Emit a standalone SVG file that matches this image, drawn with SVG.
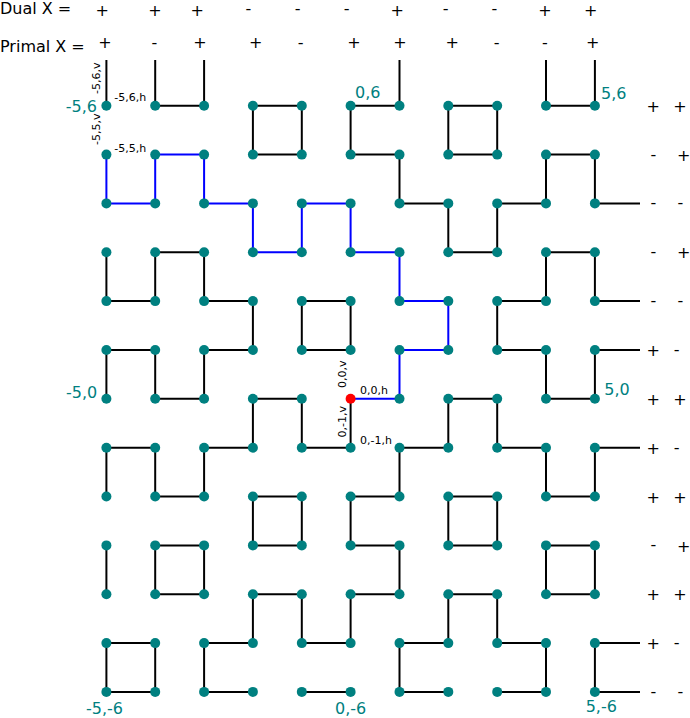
<svg xmlns="http://www.w3.org/2000/svg" width="690" height="718" viewBox="0 0 690 718">
<style>
text{font-family:"DejaVu Sans","Liberation Sans",sans-serif;fill:#000}
.hdr{font-size:16px}
.sg{font-size:16px;text-anchor:middle}
.co{font-size:16px;fill:#008080}
.sm{font-size:11px}
.e line{stroke:#000;stroke-width:2}
.path{fill:none;stroke:#0000ff;stroke-width:2}
.n circle{fill:#008080}
.n circle.start{fill:#ff0000}
</style>
<rect width="690" height="718" fill="#fff"/>
<g id="headers">
<text class="hdr" x="0" y="13.5">Dual X =</text>
<text class="hdr" x="0" y="52">Primal X =</text>
</g>
<g id="dual-signs">
<text class="sg" x="102.3" y="15.5">+</text>
<text class="sg" x="155" y="15.5">+</text>
<text class="sg" x="197.3" y="15.5">+</text>
<text class="sg" x="248.3" y="14.4">-</text>
<text class="sg" x="297.7" y="14.4">-</text>
<text class="sg" x="346.7" y="14.4">-</text>
<text class="sg" x="397.3" y="15.5">+</text>
<text class="sg" x="445.7" y="14.4">-</text>
<text class="sg" x="494.3" y="14.4">-</text>
<text class="sg" x="545" y="15.5">+</text>
<text class="sg" x="590.7" y="15.5">+</text>
</g>
<g id="primal-signs">
<text class="sg" x="105" y="48.2">+</text>
<text class="sg" x="154.3" y="47.7">-</text>
<text class="sg" x="200" y="48.2">+</text>
<text class="sg" x="255.7" y="48.2">+</text>
<text class="sg" x="300.7" y="47.7">-</text>
<text class="sg" x="354" y="48.2">+</text>
<text class="sg" x="400" y="48.2">+</text>
<text class="sg" x="452.3" y="48.2">+</text>
<text class="sg" x="496.7" y="47.7">-</text>
<text class="sg" x="545" y="47.7">-</text>
<text class="sg" x="592.7" y="48.2">+</text>
</g>
<g id="row-signs">
<text class="sg" x="653.3" y="111.8">+</text><text class="sg" x="680" y="111.8">+</text>
<text class="sg" x="653.3" y="159.5">-</text><text class="sg" x="683.7" y="160.7">+</text>
<text class="sg" x="653.3" y="208.3">-</text><text class="sg" x="680.4" y="208.3">-</text>
<text class="sg" x="653.3" y="257.2">-</text><text class="sg" x="683.7" y="258.4">+</text>
<text class="sg" x="653.3" y="306">-</text><text class="sg" x="680.4" y="306">-</text>
<text class="sg" x="653.3" y="356.1">+</text><text class="sg" x="676.7" y="354.9">-</text>
<text class="sg" x="653.3" y="404.9">+</text><text class="sg" x="680" y="404.9">+</text>
<text class="sg" x="653.3" y="453.8">+</text><text class="sg" x="676.7" y="452.6">-</text>
<text class="sg" x="653.3" y="502.6">+</text><text class="sg" x="680" y="502.6">+</text>
<text class="sg" x="653.3" y="550.3">-</text><text class="sg" x="683.7" y="551.5">+</text>
<text class="sg" x="653.3" y="600.3">+</text><text class="sg" x="680" y="600.3">+</text>
<text class="sg" x="653.3" y="649.2">+</text><text class="sg" x="676.7" y="648">-</text>
<text class="sg" x="653.3" y="696.8">-</text><text class="sg" x="680.4" y="696.8">-</text>
</g>
<g id="connectors" class="e">
<line x1="106.4" y1="60" x2="106.4" y2="105.7"/>
<line x1="155.2" y1="60" x2="155.2" y2="105.7"/>
<line x1="204.1" y1="60" x2="204.1" y2="105.7"/>
<line x1="399.5" y1="60" x2="399.5" y2="105.7"/>
<line x1="546" y1="60" x2="546" y2="105.7"/>
<line x1="594.9" y1="60" x2="594.9" y2="105.7"/>
<line x1="155.2" y1="105.7" x2="204.1" y2="105.7"/>
<line x1="252.9" y1="105.7" x2="301.8" y2="105.7"/>
<line x1="350.6" y1="105.7" x2="399.5" y2="105.7"/>
<line x1="448.3" y1="105.7" x2="497.2" y2="105.7"/>
<line x1="546" y1="105.7" x2="594.9" y2="105.7"/>
<line x1="252.9" y1="154.6" x2="301.8" y2="154.6"/>
<line x1="350.6" y1="154.6" x2="399.5" y2="154.6"/>
<line x1="448.3" y1="154.6" x2="497.2" y2="154.6"/>
<line x1="546" y1="154.6" x2="594.9" y2="154.6"/>
<line x1="399.5" y1="203.4" x2="448.3" y2="203.4"/>
<line x1="497.2" y1="203.4" x2="546" y2="203.4"/>
<line x1="594.9" y1="203.4" x2="640" y2="203.4"/>
<line x1="155.2" y1="252.3" x2="204.1" y2="252.3"/>
<line x1="448.3" y1="252.3" x2="497.2" y2="252.3"/>
<line x1="546" y1="252.3" x2="594.9" y2="252.3"/>
<line x1="106.4" y1="301.1" x2="155.2" y2="301.1"/>
<line x1="204.1" y1="301.1" x2="252.9" y2="301.1"/>
<line x1="301.8" y1="301.1" x2="350.6" y2="301.1"/>
<line x1="497.2" y1="301.1" x2="546" y2="301.1"/>
<line x1="594.9" y1="301.1" x2="640" y2="301.1"/>
<line x1="106.4" y1="350" x2="155.2" y2="350"/>
<line x1="204.1" y1="350" x2="252.9" y2="350"/>
<line x1="301.8" y1="350" x2="350.6" y2="350"/>
<line x1="497.2" y1="350" x2="546" y2="350"/>
<line x1="594.9" y1="350" x2="640" y2="350"/>
<line x1="155.2" y1="398.8" x2="204.1" y2="398.8"/>
<line x1="252.9" y1="398.8" x2="301.8" y2="398.8"/>
<line x1="448.3" y1="398.8" x2="497.2" y2="398.8"/>
<line x1="546" y1="398.8" x2="594.9" y2="398.8"/>
<line x1="106.4" y1="447.7" x2="155.2" y2="447.7"/>
<line x1="204.1" y1="447.7" x2="252.9" y2="447.7"/>
<line x1="301.8" y1="447.7" x2="350.6" y2="447.7"/>
<line x1="399.5" y1="447.7" x2="448.3" y2="447.7"/>
<line x1="497.2" y1="447.7" x2="546" y2="447.7"/>
<line x1="594.9" y1="447.7" x2="640" y2="447.7"/>
<line x1="155.2" y1="496.5" x2="204.1" y2="496.5"/>
<line x1="252.9" y1="496.5" x2="301.8" y2="496.5"/>
<line x1="350.6" y1="496.5" x2="399.5" y2="496.5"/>
<line x1="448.3" y1="496.5" x2="497.2" y2="496.5"/>
<line x1="546" y1="496.5" x2="594.9" y2="496.5"/>
<line x1="155.2" y1="545.4" x2="204.1" y2="545.4"/>
<line x1="252.9" y1="545.4" x2="301.8" y2="545.4"/>
<line x1="350.6" y1="545.4" x2="399.5" y2="545.4"/>
<line x1="448.3" y1="545.4" x2="497.2" y2="545.4"/>
<line x1="546" y1="545.4" x2="594.9" y2="545.4"/>
<line x1="155.2" y1="594.2" x2="204.1" y2="594.2"/>
<line x1="252.9" y1="594.2" x2="301.8" y2="594.2"/>
<line x1="350.6" y1="594.2" x2="399.5" y2="594.2"/>
<line x1="448.3" y1="594.2" x2="497.2" y2="594.2"/>
<line x1="546" y1="594.2" x2="594.9" y2="594.2"/>
<line x1="106.4" y1="643.1" x2="155.2" y2="643.1"/>
<line x1="204.1" y1="643.1" x2="252.9" y2="643.1"/>
<line x1="301.8" y1="643.1" x2="350.6" y2="643.1"/>
<line x1="399.5" y1="643.1" x2="448.3" y2="643.1"/>
<line x1="497.2" y1="643.1" x2="546" y2="643.1"/>
<line x1="594.9" y1="643.1" x2="640" y2="643.1"/>
<line x1="106.4" y1="691.9" x2="155.2" y2="691.9"/>
<line x1="204.1" y1="691.9" x2="252.9" y2="691.9"/>
<line x1="301.8" y1="691.9" x2="350.6" y2="691.9"/>
<line x1="399.5" y1="691.9" x2="448.3" y2="691.9"/>
<line x1="497.2" y1="691.9" x2="546" y2="691.9"/>
<line x1="594.9" y1="691.9" x2="640" y2="691.9"/>
<line x1="252.9" y1="105.7" x2="252.9" y2="154.6"/>
<line x1="301.8" y1="105.7" x2="301.8" y2="154.6"/>
<line x1="350.6" y1="105.7" x2="350.6" y2="154.6"/>
<line x1="448.3" y1="105.7" x2="448.3" y2="154.6"/>
<line x1="497.2" y1="105.7" x2="497.2" y2="154.6"/>
<line x1="399.5" y1="154.6" x2="399.5" y2="203.4"/>
<line x1="546" y1="154.6" x2="546" y2="203.4"/>
<line x1="594.9" y1="154.6" x2="594.9" y2="203.4"/>
<line x1="448.3" y1="203.4" x2="448.3" y2="252.3"/>
<line x1="497.2" y1="203.4" x2="497.2" y2="252.3"/>
<line x1="106.4" y1="252.3" x2="106.4" y2="301.1"/>
<line x1="155.2" y1="252.3" x2="155.2" y2="301.1"/>
<line x1="204.1" y1="252.3" x2="204.1" y2="301.1"/>
<line x1="546" y1="252.3" x2="546" y2="301.1"/>
<line x1="594.9" y1="252.3" x2="594.9" y2="301.1"/>
<line x1="252.9" y1="301.1" x2="252.9" y2="350"/>
<line x1="301.8" y1="301.1" x2="301.8" y2="350"/>
<line x1="350.6" y1="301.1" x2="350.6" y2="350"/>
<line x1="497.2" y1="301.1" x2="497.2" y2="350"/>
<line x1="106.4" y1="350" x2="106.4" y2="398.8"/>
<line x1="155.2" y1="350" x2="155.2" y2="398.8"/>
<line x1="204.1" y1="350" x2="204.1" y2="398.8"/>
<line x1="546" y1="350" x2="546" y2="398.8"/>
<line x1="594.9" y1="350" x2="594.9" y2="398.8"/>
<line x1="252.9" y1="398.8" x2="252.9" y2="447.7"/>
<line x1="301.8" y1="398.8" x2="301.8" y2="447.7"/>
<line x1="350.6" y1="398.8" x2="350.6" y2="447.7"/>
<line x1="448.3" y1="398.8" x2="448.3" y2="447.7"/>
<line x1="497.2" y1="398.8" x2="497.2" y2="447.7"/>
<line x1="106.4" y1="447.7" x2="106.4" y2="496.5"/>
<line x1="155.2" y1="447.7" x2="155.2" y2="496.5"/>
<line x1="204.1" y1="447.7" x2="204.1" y2="496.5"/>
<line x1="399.5" y1="447.7" x2="399.5" y2="496.5"/>
<line x1="546" y1="447.7" x2="546" y2="496.5"/>
<line x1="594.9" y1="447.7" x2="594.9" y2="496.5"/>
<line x1="252.9" y1="496.5" x2="252.9" y2="545.4"/>
<line x1="301.8" y1="496.5" x2="301.8" y2="545.4"/>
<line x1="350.6" y1="496.5" x2="350.6" y2="545.4"/>
<line x1="448.3" y1="496.5" x2="448.3" y2="545.4"/>
<line x1="497.2" y1="496.5" x2="497.2" y2="545.4"/>
<line x1="106.4" y1="545.4" x2="106.4" y2="594.2"/>
<line x1="155.2" y1="545.4" x2="155.2" y2="594.2"/>
<line x1="204.1" y1="545.4" x2="204.1" y2="594.2"/>
<line x1="399.5" y1="545.4" x2="399.5" y2="594.2"/>
<line x1="546" y1="545.4" x2="546" y2="594.2"/>
<line x1="594.9" y1="545.4" x2="594.9" y2="594.2"/>
<line x1="252.9" y1="594.2" x2="252.9" y2="643.1"/>
<line x1="301.8" y1="594.2" x2="301.8" y2="643.1"/>
<line x1="350.6" y1="594.2" x2="350.6" y2="643.1"/>
<line x1="448.3" y1="594.2" x2="448.3" y2="643.1"/>
<line x1="497.2" y1="594.2" x2="497.2" y2="643.1"/>
<line x1="106.4" y1="643.1" x2="106.4" y2="691.9"/>
<line x1="155.2" y1="643.1" x2="155.2" y2="691.9"/>
<line x1="204.1" y1="643.1" x2="204.1" y2="691.9"/>
<line x1="399.5" y1="643.1" x2="399.5" y2="691.9"/>
<line x1="546" y1="643.1" x2="546" y2="691.9"/>
<line x1="594.9" y1="643.1" x2="594.9" y2="691.9"/>
<polyline id="highlight-path" class="path" points="350.6,398.8 399.5,398.8 399.5,350 448.3,350 448.3,301.1 399.5,301.1 399.5,252.3 350.6,252.3 350.6,203.4 301.8,203.4 301.8,252.3 252.9,252.3 252.9,203.4 204.1,203.4 204.1,154.6 155.2,154.6 155.2,203.4 106.4,203.4 106.4,154.6"/>
</g>
<g id="nodes" class="n">
<g id="n_m5_6"><circle cx="106.4" cy="105.7" r="5"/></g>
<g id="n_m4_6"><circle cx="155.2" cy="105.7" r="5"/></g>
<g id="n_m3_6"><circle cx="204.1" cy="105.7" r="5"/></g>
<g id="n_m2_6"><circle cx="252.9" cy="105.7" r="5"/></g>
<g id="n_m1_6"><circle cx="301.8" cy="105.7" r="5"/></g>
<g id="n_0_6"><circle cx="350.6" cy="105.7" r="5"/></g>
<g id="n_1_6"><circle cx="399.5" cy="105.7" r="5"/></g>
<g id="n_2_6"><circle cx="448.3" cy="105.7" r="5"/></g>
<g id="n_3_6"><circle cx="497.2" cy="105.7" r="5"/></g>
<g id="n_4_6"><circle cx="546" cy="105.7" r="5"/></g>
<g id="n_5_6"><circle cx="594.9" cy="105.7" r="5"/></g>
<g id="n_m5_5"><circle cx="106.4" cy="154.6" r="5"/></g>
<g id="n_m4_5"><circle cx="155.2" cy="154.6" r="5"/></g>
<g id="n_m3_5"><circle cx="204.1" cy="154.6" r="5"/></g>
<g id="n_m2_5"><circle cx="252.9" cy="154.6" r="5"/></g>
<g id="n_m1_5"><circle cx="301.8" cy="154.6" r="5"/></g>
<g id="n_0_5"><circle cx="350.6" cy="154.6" r="5"/></g>
<g id="n_1_5"><circle cx="399.5" cy="154.6" r="5"/></g>
<g id="n_2_5"><circle cx="448.3" cy="154.6" r="5"/></g>
<g id="n_3_5"><circle cx="497.2" cy="154.6" r="5"/></g>
<g id="n_4_5"><circle cx="546" cy="154.6" r="5"/></g>
<g id="n_5_5"><circle cx="594.9" cy="154.6" r="5"/></g>
<g id="n_m5_4"><circle cx="106.4" cy="203.4" r="5"/></g>
<g id="n_m4_4"><circle cx="155.2" cy="203.4" r="5"/></g>
<g id="n_m3_4"><circle cx="204.1" cy="203.4" r="5"/></g>
<g id="n_m2_4"><circle cx="252.9" cy="203.4" r="5"/></g>
<g id="n_m1_4"><circle cx="301.8" cy="203.4" r="5"/></g>
<g id="n_0_4"><circle cx="350.6" cy="203.4" r="5"/></g>
<g id="n_1_4"><circle cx="399.5" cy="203.4" r="5"/></g>
<g id="n_2_4"><circle cx="448.3" cy="203.4" r="5"/></g>
<g id="n_3_4"><circle cx="497.2" cy="203.4" r="5"/></g>
<g id="n_4_4"><circle cx="546" cy="203.4" r="5"/></g>
<g id="n_5_4"><circle cx="594.9" cy="203.4" r="5"/></g>
<g id="n_m5_3"><circle cx="106.4" cy="252.3" r="5"/></g>
<g id="n_m4_3"><circle cx="155.2" cy="252.3" r="5"/></g>
<g id="n_m3_3"><circle cx="204.1" cy="252.3" r="5"/></g>
<g id="n_m2_3"><circle cx="252.9" cy="252.3" r="5"/></g>
<g id="n_m1_3"><circle cx="301.8" cy="252.3" r="5"/></g>
<g id="n_0_3"><circle cx="350.6" cy="252.3" r="5"/></g>
<g id="n_1_3"><circle cx="399.5" cy="252.3" r="5"/></g>
<g id="n_2_3"><circle cx="448.3" cy="252.3" r="5"/></g>
<g id="n_3_3"><circle cx="497.2" cy="252.3" r="5"/></g>
<g id="n_4_3"><circle cx="546" cy="252.3" r="5"/></g>
<g id="n_5_3"><circle cx="594.9" cy="252.3" r="5"/></g>
<g id="n_m5_2"><circle cx="106.4" cy="301.1" r="5"/></g>
<g id="n_m4_2"><circle cx="155.2" cy="301.1" r="5"/></g>
<g id="n_m3_2"><circle cx="204.1" cy="301.1" r="5"/></g>
<g id="n_m2_2"><circle cx="252.9" cy="301.1" r="5"/></g>
<g id="n_m1_2"><circle cx="301.8" cy="301.1" r="5"/></g>
<g id="n_0_2"><circle cx="350.6" cy="301.1" r="5"/></g>
<g id="n_1_2"><circle cx="399.5" cy="301.1" r="5"/></g>
<g id="n_2_2"><circle cx="448.3" cy="301.1" r="5"/></g>
<g id="n_3_2"><circle cx="497.2" cy="301.1" r="5"/></g>
<g id="n_4_2"><circle cx="546" cy="301.1" r="5"/></g>
<g id="n_5_2"><circle cx="594.9" cy="301.1" r="5"/></g>
<g id="n_m5_1"><circle cx="106.4" cy="350" r="5"/></g>
<g id="n_m4_1"><circle cx="155.2" cy="350" r="5"/></g>
<g id="n_m3_1"><circle cx="204.1" cy="350" r="5"/></g>
<g id="n_m2_1"><circle cx="252.9" cy="350" r="5"/></g>
<g id="n_m1_1"><circle cx="301.8" cy="350" r="5"/></g>
<g id="n_0_1"><circle cx="350.6" cy="350" r="5"/></g>
<g id="n_1_1"><circle cx="399.5" cy="350" r="5"/></g>
<g id="n_2_1"><circle cx="448.3" cy="350" r="5"/></g>
<g id="n_3_1"><circle cx="497.2" cy="350" r="5"/></g>
<g id="n_4_1"><circle cx="546" cy="350" r="5"/></g>
<g id="n_5_1"><circle cx="594.9" cy="350" r="5"/></g>
<g id="n_m5_0"><circle cx="106.4" cy="398.8" r="5"/></g>
<g id="n_m4_0"><circle cx="155.2" cy="398.8" r="5"/></g>
<g id="n_m3_0"><circle cx="204.1" cy="398.8" r="5"/></g>
<g id="n_m2_0"><circle cx="252.9" cy="398.8" r="5"/></g>
<g id="n_m1_0"><circle cx="301.8" cy="398.8" r="5"/></g>
<g id="n_0_0"><circle class="start" cx="350.6" cy="398.8" r="5"/></g>
<g id="n_1_0"><circle cx="399.5" cy="398.8" r="5"/></g>
<g id="n_2_0"><circle cx="448.3" cy="398.8" r="5"/></g>
<g id="n_3_0"><circle cx="497.2" cy="398.8" r="5"/></g>
<g id="n_4_0"><circle cx="546" cy="398.8" r="5"/></g>
<g id="n_5_0"><circle cx="594.9" cy="398.8" r="5"/></g>
<g id="n_m5_m1"><circle cx="106.4" cy="447.7" r="5"/></g>
<g id="n_m4_m1"><circle cx="155.2" cy="447.7" r="5"/></g>
<g id="n_m3_m1"><circle cx="204.1" cy="447.7" r="5"/></g>
<g id="n_m2_m1"><circle cx="252.9" cy="447.7" r="5"/></g>
<g id="n_m1_m1"><circle cx="301.8" cy="447.7" r="5"/></g>
<g id="n_0_m1"><circle cx="350.6" cy="447.7" r="5"/></g>
<g id="n_1_m1"><circle cx="399.5" cy="447.7" r="5"/></g>
<g id="n_2_m1"><circle cx="448.3" cy="447.7" r="5"/></g>
<g id="n_3_m1"><circle cx="497.2" cy="447.7" r="5"/></g>
<g id="n_4_m1"><circle cx="546" cy="447.7" r="5"/></g>
<g id="n_5_m1"><circle cx="594.9" cy="447.7" r="5"/></g>
<g id="n_m5_m2"><circle cx="106.4" cy="496.5" r="5"/></g>
<g id="n_m4_m2"><circle cx="155.2" cy="496.5" r="5"/></g>
<g id="n_m3_m2"><circle cx="204.1" cy="496.5" r="5"/></g>
<g id="n_m2_m2"><circle cx="252.9" cy="496.5" r="5"/></g>
<g id="n_m1_m2"><circle cx="301.8" cy="496.5" r="5"/></g>
<g id="n_0_m2"><circle cx="350.6" cy="496.5" r="5"/></g>
<g id="n_1_m2"><circle cx="399.5" cy="496.5" r="5"/></g>
<g id="n_2_m2"><circle cx="448.3" cy="496.5" r="5"/></g>
<g id="n_3_m2"><circle cx="497.2" cy="496.5" r="5"/></g>
<g id="n_4_m2"><circle cx="546" cy="496.5" r="5"/></g>
<g id="n_5_m2"><circle cx="594.9" cy="496.5" r="5"/></g>
<g id="n_m5_m3"><circle cx="106.4" cy="545.4" r="5"/></g>
<g id="n_m4_m3"><circle cx="155.2" cy="545.4" r="5"/></g>
<g id="n_m3_m3"><circle cx="204.1" cy="545.4" r="5"/></g>
<g id="n_m2_m3"><circle cx="252.9" cy="545.4" r="5"/></g>
<g id="n_m1_m3"><circle cx="301.8" cy="545.4" r="5"/></g>
<g id="n_0_m3"><circle cx="350.6" cy="545.4" r="5"/></g>
<g id="n_1_m3"><circle cx="399.5" cy="545.4" r="5"/></g>
<g id="n_2_m3"><circle cx="448.3" cy="545.4" r="5"/></g>
<g id="n_3_m3"><circle cx="497.2" cy="545.4" r="5"/></g>
<g id="n_4_m3"><circle cx="546" cy="545.4" r="5"/></g>
<g id="n_5_m3"><circle cx="594.9" cy="545.4" r="5"/></g>
<g id="n_m5_m4"><circle cx="106.4" cy="594.2" r="5"/></g>
<g id="n_m4_m4"><circle cx="155.2" cy="594.2" r="5"/></g>
<g id="n_m3_m4"><circle cx="204.1" cy="594.2" r="5"/></g>
<g id="n_m2_m4"><circle cx="252.9" cy="594.2" r="5"/></g>
<g id="n_m1_m4"><circle cx="301.8" cy="594.2" r="5"/></g>
<g id="n_0_m4"><circle cx="350.6" cy="594.2" r="5"/></g>
<g id="n_1_m4"><circle cx="399.5" cy="594.2" r="5"/></g>
<g id="n_2_m4"><circle cx="448.3" cy="594.2" r="5"/></g>
<g id="n_3_m4"><circle cx="497.2" cy="594.2" r="5"/></g>
<g id="n_4_m4"><circle cx="546" cy="594.2" r="5"/></g>
<g id="n_5_m4"><circle cx="594.9" cy="594.2" r="5"/></g>
<g id="n_m5_m5"><circle cx="106.4" cy="643.1" r="5"/></g>
<g id="n_m4_m5"><circle cx="155.2" cy="643.1" r="5"/></g>
<g id="n_m3_m5"><circle cx="204.1" cy="643.1" r="5"/></g>
<g id="n_m2_m5"><circle cx="252.9" cy="643.1" r="5"/></g>
<g id="n_m1_m5"><circle cx="301.8" cy="643.1" r="5"/></g>
<g id="n_0_m5"><circle cx="350.6" cy="643.1" r="5"/></g>
<g id="n_1_m5"><circle cx="399.5" cy="643.1" r="5"/></g>
<g id="n_2_m5"><circle cx="448.3" cy="643.1" r="5"/></g>
<g id="n_3_m5"><circle cx="497.2" cy="643.1" r="5"/></g>
<g id="n_4_m5"><circle cx="546" cy="643.1" r="5"/></g>
<g id="n_5_m5"><circle cx="594.9" cy="643.1" r="5"/></g>
<g id="n_m5_m6"><circle cx="106.4" cy="691.9" r="5"/></g>
<g id="n_m4_m6"><circle cx="155.2" cy="691.9" r="5"/></g>
<g id="n_m3_m6"><circle cx="204.1" cy="691.9" r="5"/></g>
<g id="n_m2_m6"><circle cx="252.9" cy="691.9" r="5"/></g>
<g id="n_m1_m6"><circle cx="301.8" cy="691.9" r="5"/></g>
<g id="n_0_m6"><circle cx="350.6" cy="691.9" r="5"/></g>
<g id="n_1_m6"><circle cx="399.5" cy="691.9" r="5"/></g>
<g id="n_2_m6"><circle cx="448.3" cy="691.9" r="5"/></g>
<g id="n_3_m6"><circle cx="497.2" cy="691.9" r="5"/></g>
<g id="n_4_m6"><circle cx="546" cy="691.9" r="5"/></g>
<g id="n_5_m6"><circle cx="594.9" cy="691.9" r="5"/></g>
</g>
<g id="coord-labels">
<text class="co" x="97" y="111.5" text-anchor="end">-5,6</text>
<text class="co" x="355" y="98">0,6</text>
<text class="co" x="601" y="99">5,6</text>
<text class="co" x="97.3" y="398" text-anchor="end">-5,0</text>
<text class="co" x="604.3" y="395">5,0</text>
<text class="co" x="86" y="713.5">-5,-6</text>
<text class="co" x="335" y="713.5">0,-6</text>
<text class="co" x="585.7" y="712">5,-6</text>
</g>
<g id="edge-labels">
<text class="sm" x="114.3" y="100.5">-5,6,h</text>
<text class="sm" x="114.3" y="151.5">-5,5,h</text>
<text class="sm" x="360" y="394">0,0,h</text>
<text class="sm" x="360" y="443.5">0,-1,h</text>
<text class="sm" transform="translate(100.4,94) rotate(-90)">-5,6,v</text>
<text class="sm" transform="translate(100.4,145) rotate(-90)">-5,5,v</text>
<text class="sm" transform="translate(345.5,388) rotate(-90)">0,0,v</text>
<text class="sm" transform="translate(345.5,437.5) rotate(-90)">0,-1,v</text>
</g>
</svg>
